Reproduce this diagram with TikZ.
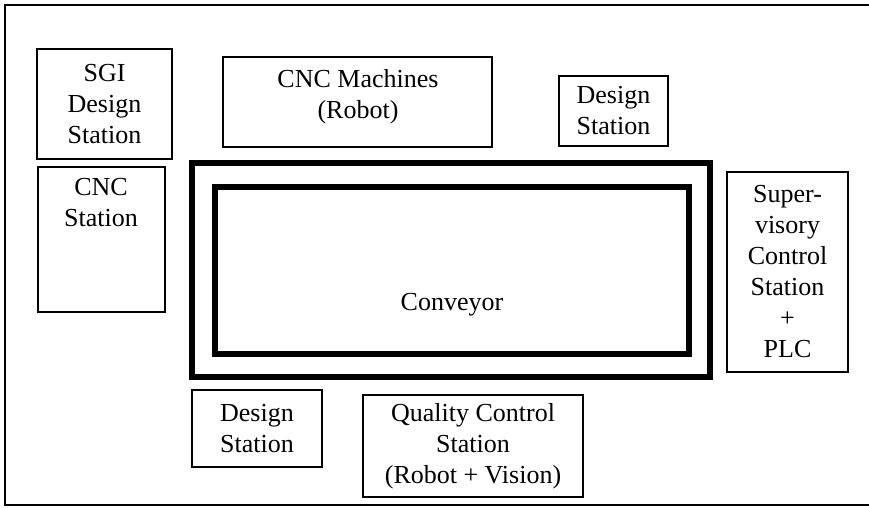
\documentclass[tikz,border=0pt]{standalone}
\usepackage{fontspec}
\setmainfont{Liberation Serif}
\usetikzlibrary{fit}
\begin{document}
\begin{tikzpicture}[x=1pt,y=-1pt,
  station/.style={draw, line width=1.5pt, inner sep=0pt},
  belt/.style={draw, line width=5.5pt, inner sep=0pt},
  caption/.style={align=center, inner sep=0pt,
    font=\fontsize{26}{31}\selectfont}]
\useasboundingbox (0,0) rectangle (869,508);

% frame (open on the right)
\draw[line width=1.6pt] (869,5) -- (5,5) -- (5,505) -- (869,505);

% conveyor loop
\node[belt, fit={(192,163) (710,377)}] (outer) {};
\node[belt, fit={(215,187) (689,354)}] (inner) {};
\node[caption] (conv) at (452,305) {Conveyor};

% stations around the conveyor
\node[station, fit={(37,49) (172,159)}] (sgi) {};
\node[caption] (sgi-t) at (sgi.center) {SGI\\Design\\Station};

\node[station, fit={(38,167) (165,312)}] (cnc) {};
\node[caption] (cnc-t) at (101,203) {CNC\\Station};

\node[station, fit={(223,57) (492,147)}] (mach) {};
\node[caption] (mach-t) at (358,97) {CNC Machines\\(Robot)};

\node[station, fit={(559,76) (668,146)}] (dtop) {};
\node[caption] (dtop-t) at (dtop.center) {Design\\Station};

\node[station, fit={(727,172) (848,372)}] (sup) {};
\node[caption] (sup-t) at (sup.center) {Super-\\visory\\Control\\Station\\+\\PLC};

\node[station, fit={(192,390) (322,467)}] (dbot) {};
\node[caption] (dbot-t) at (dbot.center) {Design\\Station};

\node[station, fit={(363,395) (583,497)}] (qc) {};
\node[caption] (qc-t) at (qc.center) {Quality Control\\Station\\(Robot + Vision)};
\end{tikzpicture}
\end{document}
